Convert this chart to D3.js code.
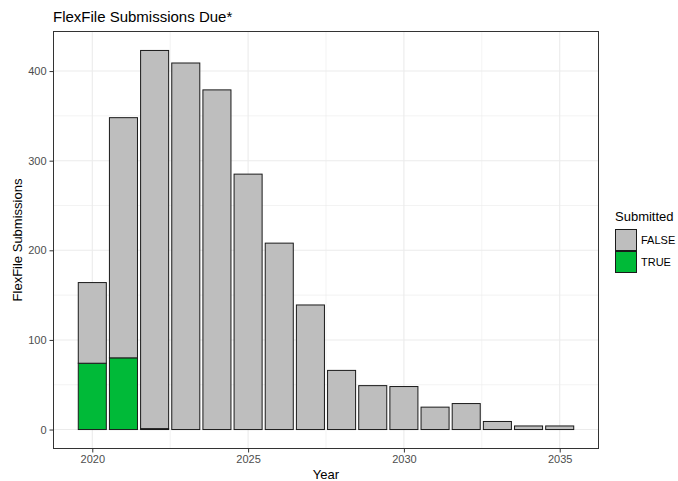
<!DOCTYPE html>
<html>
<head>
<meta charset="utf-8">
<script src="https://cdn.jsdelivr.net/npm/d3@7"></script>
<style>
  body { margin: 0; background: #fff; }
  text { font-family: "Liberation Sans", Arial, sans-serif; }
</style>
</head>
<body>
<svg id="chart"></svg>
<script>
const years = [2020, 2021, 2022, 2023, 2024, 2025, 2026, 2027, 2028, 2029, 2030, 2031, 2032, 2033, 2034, 2035];
const submittedTrue = [74, 80, 1, 0, 0, 0, 0, 0, 0, 0, 0, 0, 0, 0, 0, 0];
const submittedFalse = [90, 268, 422, 409, 379, 285, 208, 139, 66, 49, 48, 25, 29, 9, 4, 4];
const yTicks = [0, 100, 200, 300, 400];
const yMinor = [50, 150, 250, 350];
const xTicks = [2020, 2025, 2030, 2035];
const xMinor = [2022.5, 2027.5, 2032.5];
const groups = ['FALSE', 'TRUE'];
const colors = { 'FALSE': '#bebebe', 'TRUE': '#00ba38' };

const svgWidth = 678;
const svgHeight = 481;
const panel = { left: 53.5, right: 598.5, top: 31.5, bottom: 448.5 };

const svg = d3.select('#chart')
    .attr('width', svgWidth)
    .attr('height', svgHeight);

const rows = years.map((y, i) => ({ year: y, 'TRUE': submittedTrue[i], 'FALSE': submittedFalse[i] }));
// TRUE sits at the bottom, FALSE stacked on top
const stacked = d3.stack().keys(['TRUE', 'FALSE'])(rows);

const maxTotal = d3.max(rows, d => d['TRUE'] + d['FALSE']);
const yPad = maxTotal * 0.05;
const xPad = (years[years.length - 1] - years[0] + 0.9) * 0.05;

const x = d3.scaleLinear()
    .domain([years[0] - 0.45 - xPad, years[years.length - 1] + 0.45 + xPad])
    .range([panel.left, panel.right]);

const y = d3.scaleLinear()
    .domain([-yPad, maxTotal + yPad])
    .range([panel.bottom, panel.top]);

// grid
const grid = svg.append('g');
grid.selectAll('.yminor').data(yMinor).enter().append('line')
    .attr('x1', panel.left).attr('x2', panel.right)
    .attr('y1', d => y(d)).attr('y2', d => y(d))
    .attr('stroke', '#ebebeb').attr('stroke-width', 0.6);
grid.selectAll('.xminor').data(xMinor).enter().append('line')
    .attr('y1', panel.top).attr('y2', panel.bottom)
    .attr('x1', d => x(d)).attr('x2', d => x(d))
    .attr('stroke', '#ebebeb').attr('stroke-width', 0.6);
grid.selectAll('.ymajor').data(yTicks).enter().append('line')
    .attr('x1', panel.left).attr('x2', panel.right)
    .attr('y1', d => y(d)).attr('y2', d => y(d))
    .attr('stroke', '#ebebeb').attr('stroke-width', 1.1);
grid.selectAll('.xmajor').data(xTicks).enter().append('line')
    .attr('y1', panel.top).attr('y2', panel.bottom)
    .attr('x1', d => x(d)).attr('x2', d => x(d))
    .attr('stroke', '#ebebeb').attr('stroke-width', 1.1);

// bars
const barW = x(0.9) - x(0);
svg.selectAll('.layer')
    .data(stacked)
    .enter().append('g')
    .attr('fill', d => colors[d.key])
    .selectAll('rect')
    .data(d => d.filter(s => s[1] - s[0] > 0))
    .enter().append('rect')
    .attr('x', d => x(d.data.year) - barW / 2)
    .attr('y', d => y(d[1]))
    .attr('width', barW)
    .attr('height', d => y(d[0]) - y(d[1]))
    .attr('stroke', '#1a1a1a')
    .attr('stroke-width', 1);

// panel border
svg.append('rect')
    .attr('x', panel.left).attr('y', panel.top)
    .attr('width', panel.right - panel.left)
    .attr('height', panel.bottom - panel.top)
    .attr('fill', 'none')
    .attr('stroke', '#333333')
    .attr('stroke-width', 1);

// axes
const xAxis = svg.append('g')
    .attr('transform', `translate(0, ${panel.bottom})`)
    .call(d3.axisBottom(x).tickValues(xTicks).tickFormat(d3.format('d')).tickSize(4).tickPadding(3));
const yAxis = svg.append('g')
    .attr('transform', `translate(${panel.left}, 0)`)
    .call(d3.axisLeft(y).tickValues(yTicks).tickSize(4).tickPadding(3));

[xAxis, yAxis].forEach(a => {
    a.select('.domain').remove();
    a.selectAll('.tick line').attr('stroke', '#333333');
    a.selectAll('.tick text')
        .attr('fill', '#4d4d4d')
        .attr('font-size', '11px')
        .attr('font-family', '"Liberation Sans", Arial, sans-serif');
});

// titles
svg.append('text')
    .attr('x', 53)
    .attr('y', 22)
    .attr('font-size', '15px')
    .attr('fill', '#000')
    .text('FlexFile Submissions Due*');

svg.append('text')
    .attr('x', (panel.left + panel.right) / 2)
    .attr('y', 479)
    .attr('text-anchor', 'middle')
    .attr('font-size', '13px')
    .text('Year');

svg.append('text')
    .attr('transform', `translate(22, ${(panel.top + panel.bottom) / 2}) rotate(-90)`)
    .attr('text-anchor', 'middle')
    .attr('font-size', '13px')
    .text('FlexFile Submissions');

// legend (nudged left a little so FALSE fits inside the page)
const legend = svg.append('g')
    .attr('transform', 'translate(615, 209)');

legend.append('text')
    .attr('x', 0)
    .attr('y', 12)
    .attr('font-size', '13px')
    .text('Submitted');

groups.forEach((g, i) => {
    legend.append('rect')
        .attr('x', 0.5)
        .attr('y', 20.5 + i * 22)
        .attr('width', 21)
        .attr('height', 21)
        .attr('fill', colors[g])
        .attr('stroke', '#1a1a1a')
        .attr('stroke-width', 1);
    legend.append('text')
        .attr('x', 26)
        .attr('y', 35 + i * 22)
        .attr('font-size', '11px')
        .attr('fill', '#000')
        .text(g);
});
</script>
</body>
</html>
